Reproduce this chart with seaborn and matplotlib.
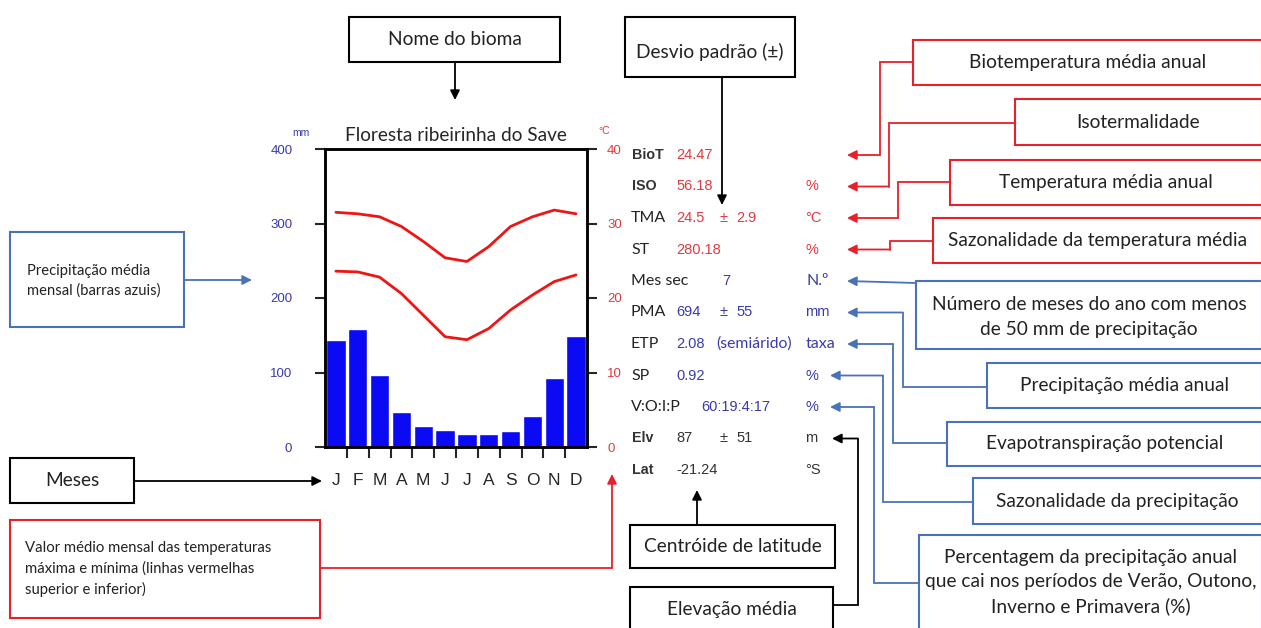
import numpy as np
import pandas as pd
import matplotlib
matplotlib.use('Agg')
import matplotlib.pyplot as plt
from matplotlib import font_manager
from matplotlib.patches import Rectangle
import seaborn as sns

# dados do climograma
meses = ['J', 'F', 'M', 'A', 'M', 'J', 'J', 'A', 'S', 'O', 'N', 'D']
precipitacao = [144, 159, 97, 47, 28, 23, 18, 18, 22, 42, 93, 149]
temp_max = [31.5, 31.3, 30.9, 29.6, 27.6, 25.4, 24.9, 26.9, 29.6, 30.9, 31.8, 31.3]
temp_min = [23.6, 23.5, 22.8, 20.6, 17.7, 14.8, 14.4, 15.9, 18.4, 20.4, 22.2, 23.1]
titulo = 'Floresta ribeirinha do Save'
prec_ticks = [0, 100, 200, 300, 400]
temp_ticks = [0, 10, 20, 30, 40]

# tabela de indicadores
stat_labels = ['BioT', 'ISO', 'TMA', 'ST', 'Mes sec', 'PMA', 'ETP', 'SP', 'V:O:I:P', 'Elv', 'Lat']
stat_values = ['24.47', '56.18', '24.5', '280.18', '7', '694', '2.08', '0.92', '60:19:4:17', '87', '-21.24']
stat_sd = ['', '', '2.9', '', '', '55', '', '', '', '51', '']
stat_units = ['', '%', '°C', '%', 'N.º', 'mm', 'taxa', '%', '%', 'm', '°S']
etp_nota = '(semiárido)'

# textos das caixas
txt_red = ['Biotemperatura média anual', 'Isotermalidade', 'Temperatura média anual',
           'Sazonalidade da temperatura média']
txt_blue = ['Número de meses do ano com menos\nde 50 mm de precipitação', 'Precipitação média anual',
            'Evapotranspiração potencial', 'Sazonalidade da precipitação',
            'Percentagem da precipitação anual\nque cai nos períodos de Verão, Outono,\nInverno e Primavera (%)']

sns.set_style('white')
nomes = {f.name for f in font_manager.fontManager.ttflist}
FONTE_C = 'Liberation Sans Narrow' if 'Liberation Sans Narrow' in nomes else 'Lato'
FONTE_A = 'Liberation Sans'
plt.rcParams['font.family'] = [FONTE_A, 'DejaVu Sans']

VERM = '#e8202a'
AZUL = '#4a72b8'
AZUL_TXT = '#3a3aaa'
VERM_TXT = '#e03a40'
W, H = 1261, 628
FS_BOX = 13.8

fig = plt.figure(figsize=(W / 100, H / 100), dpi=100)
ax = fig.add_axes([325 / W, 1 - 447 / H, 262 / W, 298 / H])

df = pd.DataFrame({'pos': np.arange(12), 'precipitacao': precipitacao,
                   'tmax': temp_max, 'tmin': temp_min})
sns.barplot(data=df, x='pos', y='precipitacao', color='#0a0af5', saturation=1,
            width=0.88, ax=ax)
ax2 = ax.twinx()
sns.lineplot(data=df, x='pos', y='tmax', color='#ee1515', lw=2, ax=ax2)
sns.lineplot(data=df, x='pos', y='tmin', color='#ee1515', lw=2, ax=ax2)

ax.set_xlim(-0.5, 11.5)
ax.set_ylim(0, 400)
ax2.set_ylim(0, 40)
for a in (ax, ax2):
    a.set_xlabel('')
    a.set_ylabel('')
    for s in a.spines.values():
        s.set_linewidth(1.8)
        s.set_color('black')

ax.set_xticks([i + 0.5 for i in range(11)])
ax.set_xticklabels([])
ax.set_xticks(range(12), minor=True)
ax.set_xticklabels(meses, minor=True)
ax.tick_params(axis='x', which='major', length=8, width=1.5, direction='out', bottom=True)
ax.tick_params(axis='x', which='minor', length=0, pad=19, labelsize=12.5, bottom=True)
ax.set_yticks(prec_ticks)
ax.tick_params(axis='y', length=7.5, width=1.5, direction='out', left=True, pad=16,
               labelsize=9.5, labelcolor=AZUL_TXT)
ax2.set_yticks(temp_ticks)
ax2.tick_params(axis='y', length=7.5, width=1.5, direction='out', right=True, pad=7,
                labelsize=9.5, labelcolor=VERM_TXT)
ax.set_title(titulo, fontsize=13.7, family=FONTE_C, pad=6)

# camada de anotações em pixels
ov = fig.add_axes([0, 0, 1, 1], zorder=10)
ov.set_xlim(0, W)
ov.set_ylim(H, 0)
ov.axis('off')
ov.patch.set_alpha(0)

ov.text(301, 133, 'mm', fontsize=7.5, color=AZUL_TXT, ha='center', va='center')
ov.text(604, 131, '°C', fontsize=7.5, color=VERM_TXT, ha='center', va='center')


def caixa(x0, y0, x1, y1, cor, texto, fs, tx=None, ty=None, ha='center', lsp=1.25):
    ov.add_patch(Rectangle((x0, y0), x1 - x0, y1 - y0, fc='white', ec=cor, lw=1.5))
    cx = (x0 + x1) / 2 if tx is None else tx
    cy = (y0 + y1) / 2 if ty is None else ty
    ov.text(cx, cy, texto, ha=ha, va='center', fontsize=fs, family=FONTE_C,
            color='#222222', linespacing=lsp)


def seta(pts, cor, lw=1.3, ms=14):
    xs, ys = zip(*pts)
    if len(pts) > 2:
        ov.plot(xs[:-1], ys[:-1], color=cor, lw=lw, solid_joinstyle='miter')
    ov.annotate('', xy=pts[-1], xytext=pts[-2],
                arrowprops=dict(arrowstyle='-|>', color=cor, lw=lw, mutation_scale=ms,
                                shrinkA=0, shrinkB=0))


# tabela
row_y = [155 + i * 31.5 for i in range(len(stat_labels))]
condensados = {'TMA', 'ST', 'Mes sec', 'PMA', 'ETP', 'SP', 'V:O:I:P', 'N.º', 'taxa'}
val_x = {'Mes sec': 722, 'V:O:I:P': 701}
for i, (lab, val, sd, un) in enumerate(zip(stat_labels, stat_values, stat_sd, stat_units)):
    y = row_y[i]
    cor = VERM_TXT if i < 4 else (AZUL_TXT if i < 9 else '#333333')
    if lab in condensados:
        ov.text(631, y, lab, fontsize=11.5, family=FONTE_C, color='#222222', va='center')
    else:
        ov.text(632, y, lab, fontsize=10.3, weight='bold', color='#333333', va='center')
    ov.text(val_x.get(lab, 676), y, val, fontsize=10.5, color=cor, va='center')
    if sd:
        ov.text(719, y, '±', fontsize=10.5, color=cor, va='center')
        ov.text(736, y, sd, fontsize=10.5, color=cor, va='center')
    if un:
        if un in condensados:
            ov.text(806, y, un, fontsize=11.5, family=FONTE_C, color=cor, va='center')
        else:
            ov.text(805, y, un, fontsize=10.5, color=cor, va='center')
ov.text(716, row_y[6], etp_nota, fontsize=11.3, family=FONTE_C, color=AZUL_TXT, va='center')

# caixas vermelhas (temperatura)
caixas_red = [(913, 40, 85, 62, 880), (1015, 99, 145, 123, 889),
              (950, 160, 205, 182, 898), (933, 218, 263, 241, 890)]
for k, (x0, y0, y1, yc, xv) in enumerate(caixas_red):
    caixa(x0, y0, 1262, y1, VERM, txt_red[k], FS_BOX)
    seta([(x0, yc), (xv, yc), (xv, row_y[k]), (847, row_y[k])], VERM)

# caixas azuis (precipitação)
caixas_blue = [(916, 281, 349, 283, None, 847), (987, 363, 408, 387, 903, 847),
               (947, 422, 466, 443, 893, 847), (973, 478, 524, 502, 883, 830),
               (919, 535, 640, 583, 874, 830)]
for k, (x0, y0, y1, yc, xv, xt) in enumerate(caixas_blue):
    ty = 582 if k == 4 else (317 if k == 0 else None)
    caixa(x0, y0, 1262, y1, AZUL, txt_blue[k], FS_BOX, ty=ty, lsp=1.5)
    if xv is None:
        seta([(x0, yc), (xt, row_y[4 + k])], AZUL)
    else:
        seta([(x0, yc), (xv, yc), (xv, row_y[4 + k]), (xt, row_y[4 + k])], AZUL)

# caixas pretas
caixa(349, 17, 560, 62, 'black', 'Nome do bioma', FS_BOX)
seta([(455, 62), (455, 100)], 'black', ms=14)
caixa(625, 17, 795, 77, 'black', 'Desvio padrão (±)', FS_BOX, ty=52)
seta([(722, 77), (722, 205)], 'black', ms=14)
caixa(630, 525, 835, 568, 'black', 'Centróide de latitude', FS_BOX)
seta([(697, 525), (697, 490)], 'black', ms=14)
caixa(630, 587, 833, 640, 'black', 'Elevação média', FS_BOX, ty=609)
seta([(833, 605), (858, 605), (858, row_y[9]), (832, row_y[9])], 'black', ms=14)
caixa(10, 458, 134, 503, 'black', 'Meses', FS_BOX)
seta([(134, 481), (322, 481)], 'black', ms=14)

# caixas da esquerda
caixa(10, 232, 184, 327, AZUL, 'Precipitação média\nmensal (barras azuis)', 10.6,
      tx=27, ty=281, ha='left', lsp=1.45)
seta([(184, 280), (252, 280)], AZUL)
caixa(10, 520, 320, 618, VERM,
      'Valor médio mensal das temperaturas\nmáxima e mínima (linhas vermelhas\nsuperior e inferior)',
      10.7, tx=25, ty=569, ha='left', lsp=1.55)
seta([(320, 568), (612, 568), (612, 474)], VERM)

fig.savefig('out.png', dpi=100)
